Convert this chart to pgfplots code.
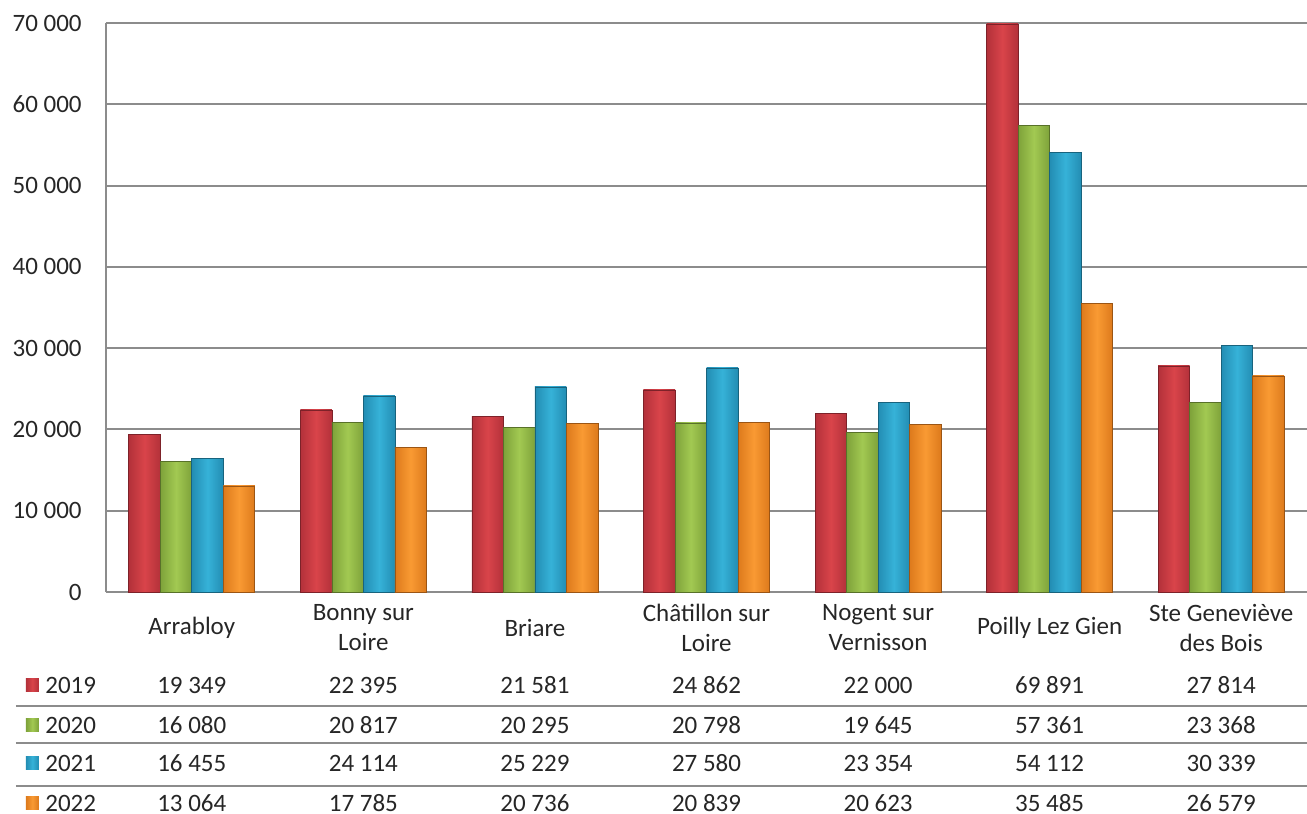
\documentclass[border=0pt]{standalone}
\usepackage{pgfplots}
\usepackage{pgfplotstable}
\pgfplotsset{compat=1.18}
\usepackage{fontspec}
\setmainfont{Carlito}

\definecolor{gridgray}{HTML}{8C8C8C}
\definecolor{txt}{HTML}{262626}
% bar colours: edge / middle
\definecolor{redE}{HTML}{B3313A}\definecolor{redM}{HTML}{D9444A}
\definecolor{grnE}{HTML}{7EA23A}\definecolor{grnM}{HTML}{A2C952}
\definecolor{bluE}{HTML}{238DB3}\definecolor{bluM}{HTML}{36B2D8}
\definecolor{orgE}{HTML}{DD7A1C}\definecolor{orgM}{HTML}{F99A33}

\newcommand{\tfont}{\fontsize{12.5}{15}\selectfont}

\pgfplotstableread{
x  y2019 y2020 y2021 y2022
0  19349 16080 16455 13064
1  22395 20817 24114 17785
2  21581 20295 25229 20736
3  24862 20798 27580 20839
4  22000 19645 23354 20623
5  69891 57361 54112 35485
6  27814 23368 30339 26579
}\data

\pgfplotsset{
  bar19/.style={draw=redE!70!black, line width=0.3pt, left color=redE, right color=redE, middle color=redM, bar shift=-23.625pt},
  bar20/.style={draw=grnE!70!black, line width=0.3pt, left color=grnE, right color=grnE, middle color=grnM, bar shift=-7.875pt},
  bar21/.style={draw=bluE!70!black, line width=0.3pt, left color=bluE, right color=bluE, middle color=bluM, bar shift=7.875pt},
  bar22/.style={draw=orgE!70!black, line width=0.3pt, left color=orgE, right color=orgE, middle color=orgM, bar shift=23.625pt},
}

\begin{document}
\begin{tikzpicture}
\path[use as bounding box] (-53pt,-111pt) rectangle (600.5pt,296pt);
\begin{axis}[
    scale only axis,
    width=600.5pt, height=284.5pt,
    ymin=0, ymax=70000,
    xmin=-0.5, xmax=6.5,
    ybar, bar width=15.75pt,
    xtick={0,...,6},
    xticklabels={Arrabloy, Bonny sur\\Loire, Briare, Châtillon sur\\Loire, Nogent sur\\Vernisson, Poilly Lez Gien, Ste Geneviève\\des Bois},
    xticklabel style={font=\tfont, text=txt, align=center, anchor=center, yshift=-18pt},
    ytick={0,10000,...,70000},
    scaled y ticks=false,
    yticklabels={0,10 000,20 000,30 000,40 000,50 000,60 000,70 000},
    yticklabel style={font=\tfont, text=txt, anchor=east, inner sep=0pt, xshift=-12pt},
    major tick length=0pt,
    ymajorgrids, grid style={gridgray, line width=1pt},
    axis x line*=bottom, axis y line*=left,
    axis line style={gridgray, line width=1pt, -},
    clip=false,
]
% one plot per bar, so that each bar gets its own shading
\pgfplotsinvokeforeach{0,...,6}{
  \addplot[bar19, restrict x to domain=#1:#1] table[x=x, y=y2019] {\data};
  \addplot[bar20, restrict x to domain=#1:#1] table[x=x, y=y2020] {\data};
  \addplot[bar21, restrict x to domain=#1:#1] table[x=x, y=y2021] {\data};
  \addplot[bar22, restrict x to domain=#1:#1] table[x=x, y=y2022] {\data};
}
\end{axis}

% data table below the chart
\foreach \y in {56.85,75.65,96.85}
  \draw[gridgray, line width=1pt] (-45pt,-\y pt) -- (600.5pt,-\y pt);

\foreach \yy/\ce/\cm/\lab/\vals in {
  46.5/redE/redM/2019/{19 349,22 395,21 581,24 862,22 000,69 891,27 814},
  66.5/grnE/grnM/2020/{16 080,20 817,20 295,20 798,19 645,57 361,23 368},
  85.5/bluE/bluM/2021/{16 455,24 114,25 229,27 580,23 354,54 112,30 339},
  105.5/orgE/orgM/2022/{13 064,17 785,20 736,20 839,20 623,35 485,26 579}}{
  \shade[left color=\ce, right color=\ce, middle color=\cm] (-40pt,-\yy pt-3.2pt) rectangle ++(6.4pt,6.4pt);
  \node[font=\tfont, text=txt, anchor=west, inner sep=0pt] at (-30.5pt,-\yy pt) {\lab};
  \foreach \v [count=\i from 0] in \vals
    \node[font=\tfont, text=txt, inner sep=0pt] at ({85.7857*(\i+0.5)*1pt},-\yy pt) {\v};
}
\end{tikzpicture}
\end{document}
